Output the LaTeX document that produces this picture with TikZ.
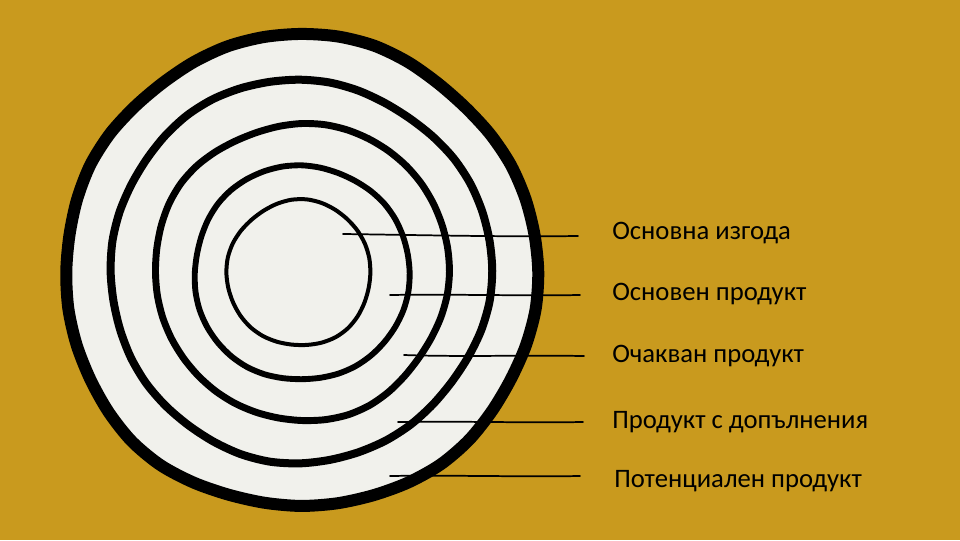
\documentclass[tikz,border=0pt]{standalone}
\usepackage{fontspec}
\setmainfont{Carlito}
\definecolor{bg}{RGB}{201,154,30}
\definecolor{paper}{RGB}{241,241,236}
\begin{document}
\begin{tikzpicture}[x=0.75pt,y=-0.75pt,
  lbl/.style={anchor=base west,inner sep=0pt,font=\fontsize{20}{22}\selectfont},
  leader/.style={line width=1.3pt,line cap=round},
  ringline/.style={draw=black,line join=round}]
\useasboundingbox (0,0) rectangle (960,540);
\fill[bg] (0,0) rectangle (960,540);
% outer ring
\filldraw[ringline,fill=paper,line width=9pt]
  plot[smooth cycle,samples=40,domain=0:351]
  ({301+cos(\x)*236*(1+0.007*sin(3*\x+20)+0.006*cos(5*\x+60)+0.003*sin(9*\x))},
   {272+sin(\x)*236*(1+0.007*sin(3*\x+20)+0.006*cos(5*\x+60)+0.003*sin(9*\x))});
% ring 2
\draw[ringline,line width=6pt]
  plot[smooth cycle,samples=40,domain=0:351]
  ({300+cos(\x)*190*(1+0.008*sin(3*\x+110)+0.005*cos(4*\x+30)+0.003*sin(8*\x))},
   {271+sin(\x)*191*(1+0.008*sin(3*\x+110)+0.005*cos(4*\x+30)+0.003*sin(8*\x))});
% ring 3
\draw[ringline,line width=5.2pt]
  plot[smooth cycle,samples=40,domain=0:351]
  ({302+cos(\x)*147*(1+0.008*sin(3*\x+200)+0.006*cos(5*\x+10)+0.003*sin(7*\x))},
   {271.5+sin(\x)*148.5*(1+0.008*sin(3*\x+200)+0.006*cos(5*\x+10)+0.003*sin(7*\x))});
% ring 4
\draw[ringline,line width=4.4pt]
  plot[smooth cycle,samples=36,domain=0:350]
  ({301.5+cos(\x)*108*(1+0.008*sin(3*\x+60)+0.006*cos(4*\x+150)+0.003*sin(7*\x))},
   {273+sin(\x)*107.5*(1+0.008*sin(3*\x+60)+0.006*cos(4*\x+150)+0.003*sin(7*\x))});
% ring 5
\draw[ringline,line width=3pt]
  plot[smooth cycle,samples=30,domain=0:348]
  ({299+cos(\x)*72*(1+0.01*sin(3*\x+300)+0.008*cos(5*\x+90))},
   {273+sin(\x)*73*(1+0.01*sin(3*\x+300)+0.008*cos(5*\x+90))});
% labels
\node[lbl] (l1) at (612,239) {Основна изгода};
\node[lbl] (l2) at (612,300) {Основен продукт};
\node[lbl] (l3) at (612,362) {Очакван продукт};
\node[lbl] (l4) at (612,428) {Продукт с допълнения};
\node[lbl] (l5) at (614,487) {Потенциален продукт};
% leader endpoints
\coordinate (s1) at (343,234); \coordinate (e1) at (578,236);
\coordinate (s2) at (390,295); \coordinate (e2) at (580,295);
\coordinate (s3) at (404,355); \coordinate (e3) at (584,356);
\coordinate (s4) at (398,422); \coordinate (e4) at (583,422);
\coordinate (s5) at (390,476); \coordinate (e5) at (580,476);
\draw[leader] (s1) .. controls (420,235) and (500,237) .. (e1);
\draw[leader] (s2) .. controls (450,294) and (520,296) .. (e2);
\draw[leader] (s3) .. controls (460,357) and (520,355) .. (e3);
\draw[leader] (s4) .. controls (460,421) and (520,423) .. (e4);
\draw[leader] (s5) .. controls (450,475) and (520,477) .. (e5);
\end{tikzpicture}
\end{document}
